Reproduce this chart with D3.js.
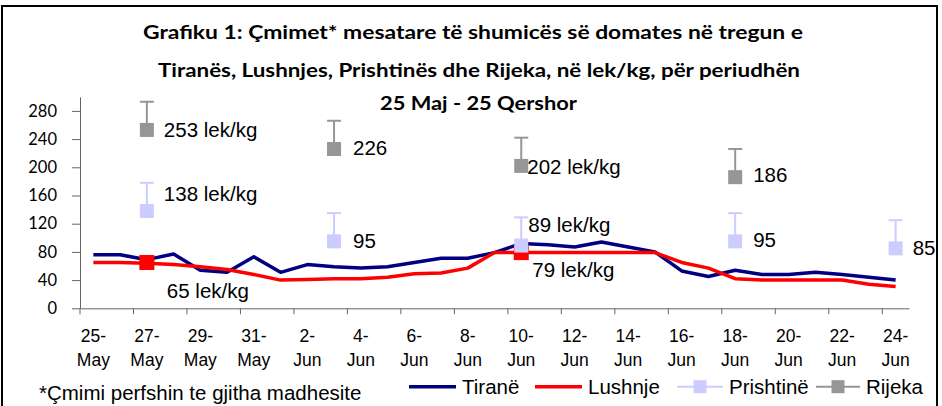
<!DOCTYPE html>
<html>
<head>
<meta charset="utf-8">
<script src="https://cdn.jsdelivr.net/npm/d3@7"></script>
<style>
body { margin: 0; background: #fff; }
</style>
</head>
<body>
<div id="chart"></div>
<script>
// categories: one per day, 25 May - 24 Jun
var dates = ["25-May", "26-May", "27-May", "28-May", "29-May", "30-May", "31-May",
    "1-Jun", "2-Jun", "3-Jun", "4-Jun", "5-Jun", "6-Jun", "7-Jun", "8-Jun", "9-Jun",
    "10-Jun", "11-Jun", "12-Jun", "13-Jun", "14-Jun", "15-Jun", "16-Jun", "17-Jun",
    "18-Jun", "19-Jun", "20-Jun", "21-Jun", "22-Jun", "23-Jun", "24-Jun"];
var xTickLabels = ["25-May", "27-May", "29-May", "31-May", "2-Jun", "4-Jun", "6-Jun", "8-Jun",
    "10-Jun", "12-Jun", "14-Jun", "16-Jun", "18-Jun", "20-Jun", "22-Jun", "24-Jun"];
var yTicks = [0, 40, 80, 120, 160, 200, 240, 280];

var tirana = [76, 76, 69, 77, 54, 51, 73, 51, 62, 59, 57, 59, 65, 71, 71, 79,
    92, 90, 87, 94, 87, 80, 53, 45, 54, 48, 48, 51, 48, 44, 40];
var lushnje = [65, 65, 64, 62, 59, 55, 48, 40, 41, 42, 42, 44, 49, 50, 57, 79,
    79, 79, 79, 79, 79, 79, 65, 57, 42, 40, 40, 40, 40, 34, 31];

var lushnjeMarkDates = ["27-May", "10-Jun"];
var lushnjeMarkValues = [65, 79];
var lushnjeLabels = ["65 lek/kg", "79 lek/kg"];

var prishtinaDates = ["27-May", "3-Jun", "10-Jun", "18-Jun", "24-Jun"];
var prishtinaValues = [138, 95, 89, 95, 85];
var prishtinaErr = [40, 40, 40, 40, 40];
var prishtinaLabels = ["138 lek/kg", "95", "89 lek/kg", "95", "85"];

var rijekaDates = ["27-May", "3-Jun", "10-Jun", "18-Jun"];
var rijekaValues = [253, 226, 202, 186];
var rijekaErr = [40, 40, 40, 40];
var rijekaLabels = ["253 lek/kg", "226", "202 lek/kg", "186"];

var titleLines = ["Grafiku 1: Çmimet* mesatare të shumicës së domates në tregun e",
    "Tiranës, Lushnjes, Prishtinës dhe Rijeka, në lek/kg, për periudhën",
    "25 Maj - 25 Qershor"];
var legendNames = ["Tiranë", "Lushnje", "Prishtinë", "Rijeka"];
var footnote = "*Çmimi perfshin te gjitha madhesite";

// layout
var width = 942, height = 406;
var plot = { left: 80, right: 909, top: 96.8, bottom: 308.3 };
var colors = { tirana: "#000080", lushnje: "#ff0000", prishtina: "#ccccff", rijeka: "#969696" };
var labelFont = "'Liberation Sans', Arial, sans-serif";
// title lines: left x, baseline y, width
var titlePos = [[143, 39, 660], [158, 77, 642], [380, 110, 197]];
// offsets of the data labels from their marker centre
var lushnjeOff = [[20, 28], [11, 17]];
var prishtinaOff = [[17, -17], [19, -1], [7, -21], [18, -2], [17, -1]];
var rijekaOff = [[17, 0], [19, -1], [6, 1], [18, -2]];

var svg = d3.select("#chart").append("svg")
    .attr("width", width)
    .attr("height", height);

svg.append("rect")
    .attr("width", width)
    .attr("height", height)
    .attr("fill", "#fff");
svg.append("rect")
    .attr("x", 2)
    .attr("y", 6)
    .attr("width", 935)
    .attr("height", 440)
    .attr("fill", "none")
    .attr("stroke", "#000")
    .attr("stroke-width", 2);

svg.selectAll("text.title")
    .data(titleLines)
    .enter().append("text")
    .attr("class", "title")
    .attr("x", function (d, i) { return titlePos[i][0]; })
    .attr("y", function (d, i) { return titlePos[i][1]; })
    .attr("textLength", function (d, i) { return titlePos[i][2]; })
    .attr("lengthAdjust", "spacingAndGlyphs")
    .attr("font-family", "Lato, sans-serif")
    .attr("font-weight", "bold")
    .attr("font-size", "19px")
    .text(function (d) { return d; });

var x = d3.scaleBand().domain(dates).range([plot.left, plot.right]);
var y = d3.scaleLinear().domain([0, 300]).range([plot.bottom, plot.top]);
function cx(d) { return x(d) + x.bandwidth() / 2; }

// y axis
var yAxis = svg.append("g")
    .attr("transform", "translate(" + plot.left + ",0)")
    .call(d3.axisLeft(y).tickValues(yTicks).tickSize(8).tickSizeOuter(0).tickPadding(15));
yAxis.selectAll("path, line").attr("stroke", "#666");
yAxis.selectAll("text")
    .attr("font-family", "Lato, sans-serif")
    .attr("font-size", "16.5px")
    .attr("fill", "#000");

// x axis, ticks between categories, two-line labels
var xAxis = svg.append("g")
    .attr("transform", "translate(0," + plot.bottom + ")")
    .call(d3.axisBottom(x).tickValues(xTickLabels).tickSize(6).tickSizeOuter(0));
xAxis.selectAll("path, line").attr("stroke", "#666");
xAxis.selectAll(".tick line")
    .attr("x1", -x.bandwidth() / 2)
    .attr("x2", -x.bandwidth() / 2);
xAxis.selectAll(".tick text")
    .text(null)
    .attr("dy", null)
    .attr("y", null)
    .attr("font-family", labelFont)
    .attr("font-size", "17.5px")
    .attr("fill", "#000")
    .each(function (d) {
        var parts = d.split("-");
        var t = d3.select(this);
        t.append("tspan").attr("x", 0).attr("y", 33.5).text(parts[0] + "-");
        t.append("tspan").attr("x", 0).attr("y", 57.5).text(parts[1]);
    });

// lines
var line = d3.line()
    .x(function (d, i) { return cx(dates[i]); })
    .y(function (d) { return y(d); });
svg.append("path")
    .datum(tirana)
    .attr("d", line)
    .attr("fill", "none")
    .attr("stroke", colors.tirana)
    .attr("stroke-width", 3.5)
    .attr("stroke-linejoin", "round");
svg.append("path")
    .datum(lushnje)
    .attr("d", line)
    .attr("fill", "none")
    .attr("stroke", colors.lushnje)
    .attr("stroke-width", 3.5)
    .attr("stroke-linejoin", "round");

function drawPoints(cat, vals, err, color, size) {
    var g = svg.append("g");
    cat.forEach(function (d, i) {
        if (err) {
            g.append("line")
                .attr("x1", cx(d)).attr("x2", cx(d))
                .attr("y1", y(vals[i])).attr("y2", y(vals[i] + err[i]))
                .attr("stroke", color).attr("stroke-width", 2);
            g.append("line")
                .attr("x1", cx(d) - 7).attr("x2", cx(d) + 7)
                .attr("y1", y(vals[i] + err[i])).attr("y2", y(vals[i] + err[i]))
                .attr("stroke", color).attr("stroke-width", 2);
        }
        g.append("rect")
            .attr("x", cx(d) - size / 2)
            .attr("y", y(vals[i]) - size / 2)
            .attr("width", size)
            .attr("height", size)
            .attr("fill", color);
    });
}

function drawLabels(cat, vals, labels, off) {
    svg.append("g").selectAll("text")
        .data(labels)
        .enter().append("text")
        .attr("x", function (d, i) { return cx(cat[i]) + off[i][0]; })
        .attr("y", function (d, i) { return y(vals[i]) + off[i][1]; })
        .attr("dy", "0.35em")
        .attr("font-family", labelFont)
        .attr("font-size", "20.5px")
        .attr("fill", "#000")
        .text(function (d) { return d; });
}

drawPoints(lushnjeMarkDates, lushnjeMarkValues, null, colors.lushnje, 15);
drawPoints(prishtinaDates, prishtinaValues, prishtinaErr, colors.prishtina, 14);
drawPoints(rijekaDates, rijekaValues, rijekaErr, colors.rijeka, 14);

drawLabels(lushnjeMarkDates, lushnjeMarkValues, lushnjeLabels, lushnjeOff);
drawLabels(prishtinaDates, prishtinaValues, prishtinaLabels, prishtinaOff);
drawLabels(rijekaDates, rijekaValues, rijekaLabels, rijekaOff);

// legend
var legendLayout = [
    { x: 409, w: 47, stroke: 3.5, marker: false },
    { x: 535, w: 47, stroke: 3.5, marker: false },
    { x: 677, w: 46, stroke: 2, marker: true },
    { x: 816, w: 44, stroke: 2, marker: true }
];
var legendColors = [colors.tirana, colors.lushnje, colors.prishtina, colors.rijeka];
var legendY = 386.7;
var legend = svg.append("g");
legendNames.forEach(function (name, i) {
    var l = legendLayout[i];
    legend.append("line")
        .attr("x1", l.x).attr("x2", l.x + l.w)
        .attr("y1", legendY).attr("y2", legendY)
        .attr("stroke", legendColors[i])
        .attr("stroke-width", l.stroke);
    if (l.marker) {
        legend.append("rect")
            .attr("x", l.x + l.w / 2 - 6.5)
            .attr("y", legendY - 6.5)
            .attr("width", 13).attr("height", 13)
            .attr("fill", legendColors[i]);
    }
    legend.append("text")
        .attr("x", l.x + l.w + 6)
        .attr("y", legendY)
        .attr("dy", "0.35em")
        .attr("font-family", labelFont)
        .attr("font-size", "20.5px")
        .text(name);
});

svg.append("text")
    .attr("x", 39)
    .attr("y", 400)
    .attr("font-family", labelFont)
    .attr("font-size", "20.5px")
    .text(footnote);
</script>
</body>
</html>
